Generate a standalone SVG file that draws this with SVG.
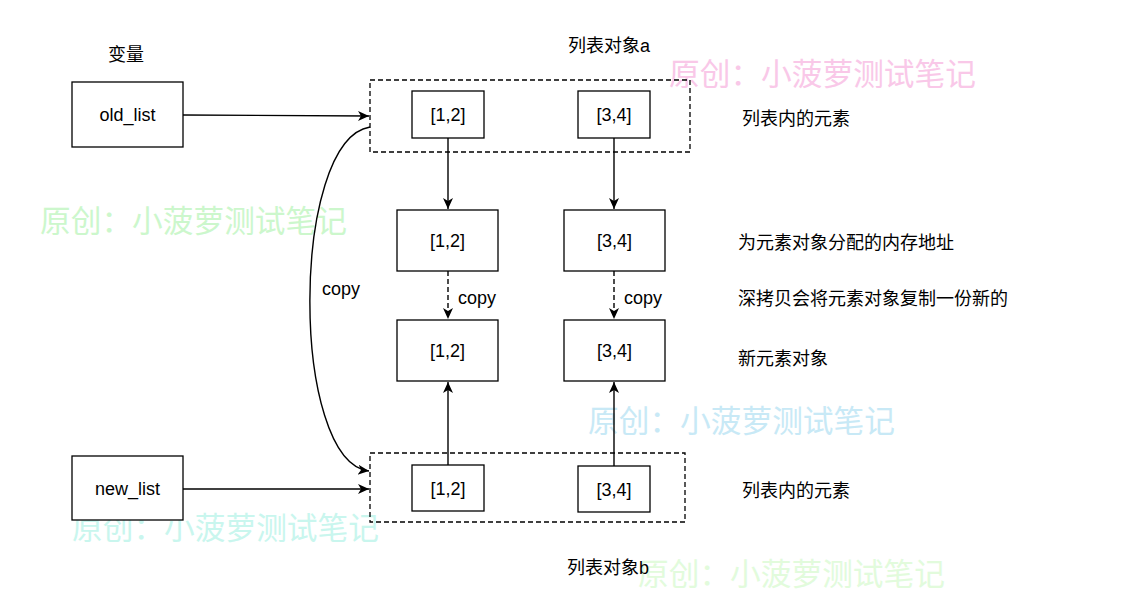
<svg xmlns="http://www.w3.org/2000/svg" width="1147" height="612" viewBox="0 0 1147 612">
<style>
.box{fill:#fff;stroke:#000;stroke-width:1.3}
.grp{fill:none;stroke:#000;stroke-width:1.3;stroke-dasharray:5 3}
.t{font-family:"Liberation Sans","Noto Sans CJK SC",sans-serif;font-size:18px;fill:#000}
.c{text-anchor:middle;dominant-baseline:central}
.wm{font-family:"Noto Sans CJK SC",sans-serif;font-size:30.7px}
.ln{fill:none;stroke:#000;stroke-width:1.4}
.dl{fill:none;stroke:#000;stroke-width:1.4;stroke-dasharray:5 3}
</style>
<defs>
<marker id="ah" markerWidth="12" markerHeight="12" refX="11" refY="5.5" orient="auto" markerUnits="userSpaceOnUse">
<path d="M0,0.5 L11,5.5 L0,10.5 L3,5.5 Z" fill="#000"/>
</marker>
</defs>
<rect width="1147" height="612" fill="#fff"/>
<g id="watermarks">
<text class="wm" x="669" y="85" fill="#f9c8e8">原创：小菠萝测试笔记</text>
<text class="wm" x="40" y="232" fill="#ccf7cc">原创：小菠萝测试笔记</text>
<text class="wm" x="588" y="432" fill="#c8e9f6">原创：小菠萝测试笔记</text>
<text class="wm" x="72" y="539" fill="#c9f6ee">原创：小菠萝测试笔记</text>
<text class="wm" x="638" y="585" fill="#e2fbdc">原创：小菠萝测试笔记</text>
</g>
<g id="labels">
<text class="t c" x="126" y="55">变量</text>
<text class="t c" x="609" y="46">列表对象a</text>
<text class="t c" x="608" y="568">列表对象b</text>
<text class="t" x="742" y="125">列表内的元素</text>
<text class="t" x="738" y="249">为元素对象分配的内存地址</text>
<text class="t" x="738" y="305">深拷贝会将元素对象复制一份新的</text>
<text class="t" x="738" y="365">新元素对象</text>
<text class="t" x="742" y="497">列表内的元素</text>
</g>
<g id="groupA"><rect class="grp" x="370" y="80" width="320" height="72"/></g>
<g id="groupB"><rect class="grp" x="370" y="453" width="315" height="69"/></g>
<g id="old_list"><rect class="box" x="72" y="82" width="111" height="65"/><text class="t c" x="127.5" y="115">old_list</text></g>
<g id="new_list"><rect class="box" x="72" y="456" width="111" height="64"/><text class="t c" x="127.5" y="489">new_list</text></g>
<g id="a12"><rect class="box" x="412" y="91" width="72" height="47"/><text class="t c" x="448" y="115">[1,2]</text></g>
<g id="a34"><rect class="box" x="578" y="91" width="72" height="47"/><text class="t c" x="614" y="115">[3,4]</text></g>
<g id="m12"><rect class="box" x="397" y="210" width="101" height="61"/><text class="t c" x="447.5" y="241">[1,2]</text></g>
<g id="m34"><rect class="box" x="564" y="210" width="101" height="61"/><text class="t c" x="614.5" y="241">[3,4]</text></g>
<g id="n12"><rect class="box" x="397" y="320" width="101" height="61"/><text class="t c" x="447.5" y="351">[1,2]</text></g>
<g id="n34"><rect class="box" x="564" y="320" width="101" height="61"/><text class="t c" x="614.5" y="351">[3,4]</text></g>
<g id="b12"><rect class="box" x="412" y="465" width="72" height="46"/><text class="t c" x="448" y="489">[1,2]</text></g>
<g id="b34"><rect class="box" x="578" y="466" width="72" height="46"/><text class="t c" x="614" y="490">[3,4]</text></g>
<g id="connectors">
<line class="ln" x1="183" y1="115" x2="369" y2="116" marker-end="url(#ah)"/>
<line class="ln" x1="183" y1="489" x2="369" y2="489" marker-end="url(#ah)"/>
<path class="ln" d="M370,127 C290,140 290,462 369,471" marker-end="url(#ah)"/>
<text class="t c" x="341" y="289">copy</text>
<line class="ln" x1="448" y1="138" x2="448" y2="209" marker-end="url(#ah)"/>
<line class="ln" x1="614" y1="138" x2="614" y2="209" marker-end="url(#ah)"/>
<line class="dl" x1="448" y1="271" x2="448" y2="319" marker-end="url(#ah)"/>
<line class="dl" x1="614" y1="271" x2="614" y2="319" marker-end="url(#ah)"/>
<text class="t c" x="477" y="298">copy</text>
<text class="t c" x="643" y="298">copy</text>
<line class="ln" x1="448" y1="465" x2="448" y2="382" marker-end="url(#ah)"/>
<line class="ln" x1="614" y1="466" x2="614" y2="382" marker-end="url(#ah)"/>
</g>
</svg>
